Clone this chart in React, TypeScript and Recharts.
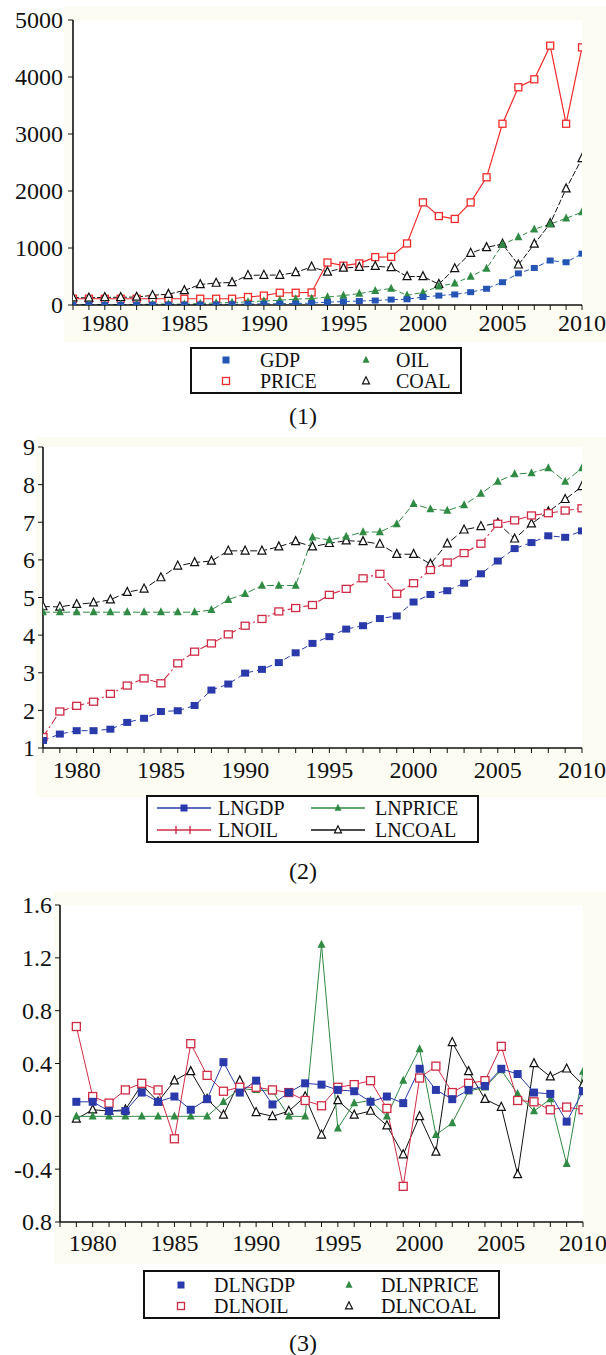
import React from 'react';
import { LineChart, Line, XAxis, YAxis, CartesianGrid } from 'recharts';

const FONT = '"Liberation Serif", "Times New Roman", serif';

// ---------- shared axes ----------
const years = [1978, 1979, 1980, 1981, 1982, 1983, 1984, 1985, 1986, 1987, 1988, 1989, 1990, 1991, 1992, 1993, 1994, 1995, 1996, 1997, 1998, 1999, 2000, 2001, 2002, 2003, 2004, 2005, 2006, 2007, 2008, 2009, 2010];
const diffYears = [1979, 1980, 1981, 1982, 1983, 1984, 1985, 1986, 1987, 1988, 1989, 1990, 1991, 1992, 1993, 1994, 1995, 1996, 1997, 1998, 1999, 2000, 2001, 2002, 2003, 2004, 2005, 2006, 2007, 2008, 2009, 2010];
const labeledYears = [1980, 1985, 1990, 1995, 2000, 2005, 2010];

// ---------- chart (1) ----------
const gdp = [3, 4, 4, 4, 5, 5, 6, 7, 7, 8, 13, 15, 20, 22, 26, 34, 50, 60, 70, 78, 95, 100, 140, 165, 185, 225, 285, 400, 555, 650, 780, 750, 900];
const price = [110, 110, 110, 110, 110, 110, 110, 110, 110, 110, 110, 140, 165, 215, 215, 220, 745, 690, 730, 840, 845, 1080, 1800, 1560, 1510, 1800, 2240, 3180, 3820, 3960, 4550, 3180, 4520];
const oil = [4, 7, 8, 9, 11, 14, 17, 15, 26, 35, 44, 56, 70, 84, 103, 112, 140, 165, 200, 250, 290, 170, 220, 330, 380, 500, 640, 1060, 1190, 1330, 1420, 1520, 1630];
const coal = [130, 125, 135, 135, 140, 170, 190, 255, 360, 385, 395, 520, 525, 525, 570, 670, 580, 650, 665, 680, 660, 500, 500, 365, 640, 910, 1010, 1070, 705, 1070, 1430, 2040, 2570];
const yTicks1 = [0, 1000, 2000, 3000, 4000, 5000];
const yLabels1 = ['0', '1000', '2000', '3000', '4000', '5000'];

// ---------- chart (2) ----------
const lngdp = [1.2, 1.37, 1.46, 1.46, 1.5, 1.68, 1.79, 1.97, 1.99, 2.13, 2.54, 2.7, 2.99, 3.09, 3.27, 3.53, 3.78, 3.96, 4.16, 4.25, 4.44, 4.51, 4.88, 5.08, 5.18, 5.38, 5.63, 5.97, 6.3, 6.46, 6.64, 6.6, 6.77];
const lnprice = [4.61, 4.61, 4.61, 4.61, 4.61, 4.61, 4.61, 4.61, 4.61, 4.61, 4.67, 4.94, 5.1, 5.32, 5.32, 5.32, 6.6, 6.53, 6.62, 6.74, 6.74, 6.95, 7.49, 7.35, 7.31, 7.46, 7.76, 8.08, 8.28, 8.31, 8.44, 8.08, 8.44];
const lnoil = [1.29, 1.97, 2.12, 2.23, 2.44, 2.66, 2.85, 2.72, 3.25, 3.56, 3.78, 4.02, 4.25, 4.43, 4.63, 4.72, 4.8, 5.07, 5.23, 5.51, 5.63, 5.1, 5.38, 5.73, 5.93, 6.18, 6.43, 6.96, 7.05, 7.18, 7.24, 7.31, 7.37];
const lncoal = [4.76, 4.75, 4.82, 4.86, 4.94, 5.14, 5.23, 5.53, 5.84, 5.93, 5.97, 6.24, 6.24, 6.24, 6.35, 6.49, 6.35, 6.44, 6.51, 6.49, 6.42, 6.15, 6.15, 5.89, 6.43, 6.8, 6.89, 6.98, 6.56, 6.96, 7.28, 7.61, 7.95];
const yTicks2 = [1, 2, 3, 4, 5, 6, 7, 8, 9];
const yLabels2 = ['1', '2', '3', '4', '5', '6', '7', '8', '9'];

// ---------- chart (3) ----------
const dlngdp = [0.11, 0.11, 0.04, 0.04, 0.18, 0.11, 0.15, 0.05, 0.13, 0.41, 0.18, 0.27, 0.09, 0.18, 0.25, 0.24, 0.2, 0.19, 0.11, 0.15, 0.1, 0.36, 0.2, 0.13, 0.2, 0.23, 0.36, 0.32, 0.18, 0.17, -0.04, 0.19];
const dlnprice = [0, 0, 0, 0, 0, 0, 0, 0, 0, 0.11, 0.21, 0.2, 0.19, 0, 0, 1.3, -0.09, 0.1, 0.12, 0, 0.27, 0.51, -0.14, -0.05, 0.19, 0.22, 0.35, 0.17, 0.04, 0.13, -0.36, 0.34];
const dlnoil = [0.68, 0.15, 0.1, 0.2, 0.25, 0.2, -0.17, 0.55, 0.31, 0.19, 0.22, 0.22, 0.2, 0.18, 0.12, 0.08, 0.22, 0.24, 0.27, 0.06, -0.53, 0.29, 0.38, 0.18, 0.25, 0.27, 0.53, 0.12, 0.11, 0.05, 0.07, 0.05];
const dlncoal = [-0.02, 0.05, 0.04, 0.05, 0.24, 0.11, 0.27, 0.34, 0.13, 0.01, 0.27, 0.03, 0.0, 0.04, 0.15, -0.14, 0.12, 0.01, 0.04, -0.07, -0.29, 0.0, -0.27, 0.56, 0.34, 0.13, 0.07, -0.44, 0.4, 0.3, 0.36, 0.24];
const yTicks3 = [-0.8, -0.4, 0, 0.4, 0.8, 1.2, 1.6];
const yLabels3 = ['0.8', '-0.4', '0.0', '0.4', '0.8', '1.2', '1.6'];

const data1 = years.map((y, i) => ({ year: y, GDP: gdp[i], PRICE: price[i], OIL: oil[i], COAL: coal[i] }));
const data2 = years.map((y, i) => ({ year: y, LNGDP: lngdp[i], LNPRICE: lnprice[i], LNOIL: lnoil[i], LNCOAL: lncoal[i] }));
const data3 = diffYears.map((y, i) => ({ year: y, DLNGDP: dlngdp[i], DLNPRICE: dlnprice[i], DLNOIL: dlnoil[i], DLNCOAL: dlncoal[i] }));

// ---------- colours ----------
const BLUE1 = '#2455b5';
const RED1 = '#f02a2a';
const GREEN = '#2f8a43';
const BLACK = '#111111';
const BLUE2 = '#2a3aab';
const RED2 = '#d02a45';

const TICK_FONT = 24;
const LEGEND_FONT = 20;

type Kind = 'square' | 'openSquare' | 'triangle' | 'openTriangle';

function Marker({ kind, cx, cy, color, w = 6, h = 6 }: { kind: Kind; cx: number; cy: number; color: string; w?: number; h?: number }) {
  if (kind === 'square') return <rect x={cx - w / 2} y={cy - h / 2} width={w} height={h} fill={color} />;
  if (kind === 'openSquare') return <rect x={cx - w / 2} y={cy - h / 2} width={w} height={h} fill="#fff" stroke={color} strokeWidth={1.3} />;
  const pts = `${cx},${cy - h * 0.6} ${cx - w / 2},${cy + h * 0.4} ${cx + w / 2},${cy + h * 0.4}`;
  if (kind === 'triangle') return <polygon points={pts} fill={color} />;
  return <polygon points={pts} fill="#fff" stroke={color} strokeWidth={1.2} />;
}

const makeDot = (kind: Kind, color: string, w: number, h: number) => (p: any) => {
  if (p.cx == null || p.cy == null) return <g key={`e-${p.index}`} />;
  return (
    <g key={`d-${p.index}`}>
      <Marker kind={kind} cx={p.cx} cy={p.cy} color={color} w={w} h={h} />
    </g>
  );
};

const makeXTick = () => (props: any) => {
  const { x, y, payload } = props;
  if (!labeledYears.includes(payload.value)) return <g />;
  return (
    <text x={x} y={y} dy="0.35em" textAnchor="middle" fontSize={TICK_FONT} fontFamily={FONT} fill="#111">
      {payload.value}
    </text>
  );
};

const makeYTick = (ticks: number[], labels: string[]) => (props: any) => {
  const { x, y, payload } = props;
  const i = ticks.findIndex((t) => Math.abs(t - payload.value) < 1e-9);
  return (
    <text x={x} y={y} dy="0.35em" textAnchor="end" fontSize={TICK_FONT} fontFamily={FONT} fill="#111">
      {i >= 0 ? labels[i] : ''}
    </text>
  );
};

type LegendItem = { name: string; color: string; kind: Kind; line?: boolean; dash?: string; bars?: boolean };

function LegendBox({ left, top, width, height, items, cols, rows }: any) {
  return (
    <div style={{ position: 'absolute', left, top, width, height, boxSizing: 'border-box', border: '2px solid #111', background: '#fff' }}>
      <svg width={width - 4} height={height - 4} style={{ position: 'absolute', left: 0, top: 0, overflow: 'visible' }}>
        {items.map((it: LegendItem, i: number) => {
          const c = cols[i % 2];
          const yy = rows[Math.floor(i / 2)] - 2;
          const mid = c.lineStart != null ? (c.lineStart + c.lineEnd) / 2 - 2 : 0;
          return (
            <g key={it.name}>
              {it.line && (
                <line x1={c.lineStart - 2} x2={c.lineEnd - 2} y1={yy} y2={yy} stroke={it.color} strokeWidth={1.4} strokeDasharray={it.dash} />
              )}
              {it.bars && (
                <g>
                  <line x1={mid - 8} x2={mid - 8} y1={yy - 4} y2={yy + 4} stroke={it.color} strokeWidth={1.4} />
                  <line x1={mid + 6} x2={mid + 6} y1={yy - 4} y2={yy + 4} stroke={it.color} strokeWidth={1.4} />
                </g>
              )}
              {it.kind && !it.bars && <Marker kind={it.kind} cx={c.marker - 2} cy={yy} color={it.color} w={7} h={7} />}
              <text x={c.text - 2} y={yy} dy="0.35em" fontSize={LEGEND_FONT} fontFamily={FONT} fill="#111">
                {it.name}
              </text>
            </g>
          );
        })}
      </svg>
    </div>
  );
}

function Caption({ top, text }: { top: number; text: string }) {
  return (
    <div style={{ position: 'absolute', left: 0, width: 606, top: top - 14, height: 28, lineHeight: '28px', textAlign: 'center', fontFamily: FONT, fontSize: 24, color: '#111' }}>
      {text}
    </div>
  );
}

const axisStroke = '#111';

export default function App() {
  const frameProps = { stroke: axisStroke, strokeWidth: 1.6 };
  return (
    <div style={{ position: 'absolute', left: 0, top: 0, width: 606, height: 1355, background: '#fff', overflow: 'hidden' }}>
      {/* chart 1 */}
      <div style={{ position: 'absolute', left: 64, top: 6, width: 542, height: 336, background: '#fcfcf3' }} />
      <div style={{ position: 'absolute', left: 0, top: 0 }}>
        <LineChart width={606} height={340} data={data1} margin={{ top: 20, right: 24, bottom: 5, left: 0 }}>
          <CartesianGrid horizontal={false} vertical={false} fill="#ffffff" />
          <XAxis dataKey="year" type="number" domain={[1978, 2010]} ticks={years} interval={0} height={30} tickSize={5} tickMargin={13} axisLine={frameProps} tickLine={{ stroke: axisStroke }} tick={makeXTick()} allowDataOverflow />
          <XAxis xAxisId="top" orientation="top" type="number" domain={[1978, 2010]} height={0} tick={false} tickLine={false} axisLine={frameProps} />
          <YAxis type="number" domain={[0, 5000]} ticks={yTicks1} interval={0} width={73} tickSize={5} tickMargin={5} axisLine={frameProps} tickLine={{ stroke: axisStroke }} tick={makeYTick(yTicks1, yLabels1)} allowDataOverflow />
          <YAxis yAxisId="right" orientation="right" type="number" domain={[0, 5000]} width={0} tick={false} tickLine={false} axisLine={frameProps} />
          <Line dataKey="PRICE" stroke={RED1} strokeWidth={1.2} dot={makeDot('openSquare', RED1, 7, 7)} activeDot={false} isAnimationActive={false} />
          <Line dataKey="COAL" stroke={BLACK} strokeWidth={1} strokeDasharray="6 2" dot={makeDot('openTriangle', BLACK, 8, 8)} activeDot={false} isAnimationActive={false} />
          <Line dataKey="OIL" stroke={GREEN} strokeWidth={1} strokeDasharray="5 3" dot={makeDot('triangle', GREEN, 8, 8)} activeDot={false} isAnimationActive={false} />
          <Line dataKey="GDP" stroke={BLUE1} strokeWidth={1} strokeDasharray="5 3" dot={makeDot('square', BLUE1, 7, 6)} activeDot={false} isAnimationActive={false} />
        </LineChart>
      </div>
      <LegendBox
        left={190}
        top={347}
        width={272}
        height={47}
        items={[
          { name: 'GDP', color: BLUE1, kind: 'square' },
          { name: 'OIL', color: GREEN, kind: 'triangle' },
          { name: 'PRICE', color: RED1, kind: 'openSquare' },
          { name: 'COAL', color: BLACK, kind: 'openTriangle' },
        ]}
        cols={[
          { marker: 36, text: 70 },
          { marker: 176, text: 206 },
        ]}
        rows={[13, 34]}
      />
      <Caption top={416} text="(1)" />

      {/* chart 2 */}
      <div style={{ position: 'absolute', left: 36, top: 437, width: 570, height: 360, background: '#fcfcf3' }} />
      <div style={{ position: 'absolute', left: 0, top: 427 }}>
        <LineChart width={606} height={360} data={data2} margin={{ top: 20, right: 24, bottom: 9, left: 0 }}>
          <CartesianGrid horizontal={false} vertical={false} fill="#ffffff" />
          <XAxis dataKey="year" type="number" domain={[1978, 2010]} ticks={years} interval={0} height={30} tickSize={5} tickMargin={17} axisLine={frameProps} tickLine={{ stroke: axisStroke }} tick={makeXTick()} allowDataOverflow />
          <XAxis xAxisId="top" orientation="top" type="number" domain={[1978, 2010]} height={0} tick={false} tickLine={false} axisLine={frameProps} />
          <YAxis type="number" domain={[1, 9]} ticks={yTicks2} interval={0} width={43} tickSize={5} tickMargin={3} axisLine={frameProps} tickLine={{ stroke: axisStroke }} tick={makeYTick(yTicks2, yLabels2)} allowDataOverflow />
          <YAxis yAxisId="right" orientation="right" type="number" domain={[1, 9]} width={0} tick={false} tickLine={false} axisLine={frameProps} />
          <Line dataKey="LNCOAL" stroke={BLACK} strokeWidth={1} strokeDasharray="7 3" dot={makeDot('openTriangle', BLACK, 8, 8)} activeDot={false} isAnimationActive={false} />
          <Line dataKey="LNPRICE" stroke={GREEN} strokeWidth={1} strokeDasharray="7 3" dot={makeDot('triangle', GREEN, 8, 8)} activeDot={false} isAnimationActive={false} />
          <Line dataKey="LNOIL" stroke={RED2} strokeWidth={1.1} strokeDasharray="8 3 2 3" dot={makeDot('openSquare', RED2, 8, 7)} activeDot={false} isAnimationActive={false} />
          <Line dataKey="LNGDP" stroke={BLUE2} strokeWidth={1} strokeDasharray="6 4" dot={makeDot('square', BLUE2, 8, 7)} activeDot={false} isAnimationActive={false} />
        </LineChart>
      </div>
      <LegendBox
        left={146}
        top={795}
        width={333}
        height={48}
        items={[
          { name: 'LNGDP', color: BLUE2, kind: 'square', line: true },
          { name: 'LNPRICE', color: GREEN, kind: 'triangle', line: true },
          { name: 'LNOIL', color: RED2, kind: 'openSquare', line: true, bars: true },
          { name: 'LNCOAL', color: BLACK, kind: 'openTriangle', line: true },
        ]}
        cols={[
          { marker: 38, text: 72, lineStart: 11, lineEnd: 65 },
          { marker: 192, text: 229, lineStart: 165, lineEnd: 219 },
        ]}
        rows={[13, 35]}
      />
      <Caption top={871} text="(2)" />

      {/* chart 3 */}
      <div style={{ position: 'absolute', left: 54, top: 892, width: 552, height: 372, background: '#fcfcf3' }} />
      <div style={{ position: 'absolute', left: 0, top: 885 }}>
        <LineChart width={606} height={380} data={data3} margin={{ top: 20, right: 23, bottom: 13, left: 0 }}>
          <CartesianGrid horizontal={false} vertical={false} fill="#ffffff" />
          <XAxis dataKey="year" type="number" domain={[1978, 2010]} ticks={years} interval={0} height={30} tickSize={5} tickMargin={16} axisLine={frameProps} tickLine={{ stroke: axisStroke }} tick={makeXTick()} allowDataOverflow />
          <XAxis xAxisId="top" orientation="top" type="number" domain={[1978, 2010]} height={0} tick={false} tickLine={false} axisLine={frameProps} />
          <YAxis type="number" domain={[-0.8, 1.6]} ticks={yTicks3} interval={0} width={60} tickSize={5} tickMargin={3} axisLine={frameProps} tickLine={{ stroke: axisStroke }} tick={makeYTick(yTicks3, yLabels3)} allowDataOverflow />
          <YAxis yAxisId="right" orientation="right" type="number" domain={[-0.8, 1.6]} width={0} tick={false} tickLine={false} axisLine={frameProps} />
          <Line dataKey="DLNCOAL" stroke={BLACK} strokeWidth={1} dot={makeDot('openTriangle', BLACK, 8, 8)} activeDot={false} isAnimationActive={false} />
          <Line dataKey="DLNPRICE" stroke={GREEN} strokeWidth={1} dot={makeDot('triangle', GREEN, 8, 8)} activeDot={false} isAnimationActive={false} />
          <Line dataKey="DLNOIL" stroke={RED2} strokeWidth={1} dot={makeDot('openSquare', RED2, 8, 8)} activeDot={false} isAnimationActive={false} />
          <Line dataKey="DLNGDP" stroke={BLUE2} strokeWidth={1} dot={makeDot('square', BLUE2, 8, 8)} activeDot={false} isAnimationActive={false} />
        </LineChart>
      </div>
      <LegendBox
        left={143}
        top={1270}
        width={357}
        height={49}
        items={[
          { name: 'DLNGDP', color: BLUE2, kind: 'square' },
          { name: 'DLNPRICE', color: GREEN, kind: 'triangle' },
          { name: 'DLNOIL', color: RED2, kind: 'openSquare' },
          { name: 'DLNCOAL', color: BLACK, kind: 'openTriangle' },
        ]}
        cols={[
          { marker: 38, text: 71 },
          { marker: 206, text: 238 },
        ]}
        rows={[15, 36]}
      />
      <Caption top={1343} text="(3)" />
    </div>
  );
}
